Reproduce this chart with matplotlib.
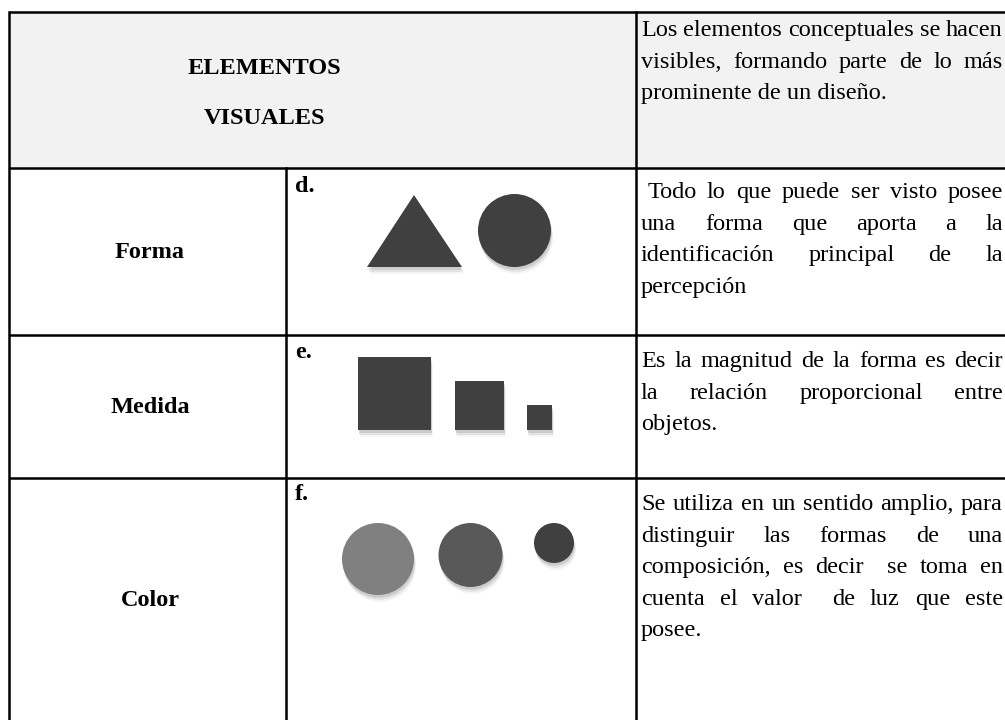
import matplotlib.pyplot as plt
import matplotlib.patches as mpatches
import matplotlib.patheffects as pe

# table content
header_title = ['ELEMENTOS', 'VISUALES']
header_text = ['Los elementos conceptuales se hacen',
               'visibles, formando parte de lo más',
               'prominente de un diseño.']
row_labels = ['Forma', 'Medida', 'Color']
item_letters = ['d.', 'e.', 'f.']
descriptions = [
    [' Todo lo que puede ser visto posee',
     'una forma que aporta a la',
     'identificación principal de la',
     'percepción'],
    ['Es la magnitud de la forma es decir',
     'la relación proporcional entre',
     'objetos.'],
    ['Se utiliza en un sentido amplio, para',
     'distinguir las formas de una',
     'composición, es decir  se toma en',
     'cuenta el valor  de luz que este',
     'posee.'],
]
square_sizes = [73, 49, 25]
circle_radii = [36, 32, 20]
circle_grays = ['#808080', '#595959', '#404040']

W, H = 1005, 720
FONT = 'Liberation Serif'
FS = 17.5
DARK = '#404040'

fig = plt.figure(figsize=(W / 100, H / 100), dpi=100)
ax = fig.add_axes([0, 0, 1, 1])
ax.set_xlim(0, W)
ax.set_ylim(H, 0)
ax.axis('off')
renderer = fig.canvas.get_renderer()

# grid geometry (pixels)
x_left, x_c1, x_c2 = 9, 286, 636
row_tops = [12, 168, 335, 478]
row_bottoms = [168, 335, 478, 722]

ax.add_patch(mpatches.Rectangle((x_left, 12), W - x_left, 156,
                                facecolor='#f2f2f2', edgecolor='none', zorder=0))
lw = 1.8
for y in row_tops:
    ax.plot([x_left, W], [y, y], color='black', lw=lw, solid_capstyle='butt', zorder=3)
ax.plot([x_left, x_left], [12, H], color='black', lw=lw, zorder=3)
ax.plot([x_c2, x_c2], [12, H], color='black', lw=lw, zorder=3)
ax.plot([x_c1, x_c1], [168, H], color='black', lw=lw, zorder=3)


def text_width(s, weight='normal'):
    t = ax.text(0, 0, s, fontsize=FS, family=FONT, fontweight=weight)
    w = t.get_window_extent(renderer).width
    t.remove()
    return w


space_w = text_width('a a') - text_width('aa')


def justified(lines, y0, x0=641, x1=1003, step=31.6):
    for i, line in enumerate(lines):
        y = y0 + i * step
        indent = (len(line) - len(line.lstrip(' '))) * space_w
        body = line.lstrip(' ')
        if i == len(lines) - 1:
            ax.text(x0 + indent, y, body, fontsize=FS, family=FONT, va='baseline')
            continue
        words = body.split(' ')
        widths = [text_width(w) if w else 0 for w in words]
        gap = (x1 - x0 - indent - sum(widths)) / (len(words) - 1)
        x = x0 + indent
        for w, ww in zip(words, widths):
            if w:
                ax.text(x, y, w, fontsize=FS, family=FONT, va='baseline')
            x += ww + gap


# header
ax.text(264, 68, header_title[0], fontsize=FS, family=FONT, fontweight='bold',
        ha='center', va='center')
ax.text(264, 118, header_title[1], fontsize=FS, family=FONT, fontweight='bold',
        ha='center', va='center')
justified(header_text, 36)

# body rows
first_baselines = [198, 367, 510]
letter_baselines = [192, 358, 500]
for i, label in enumerate(row_labels):
    top, bot = row_tops[i + 1], row_bottoms[i + 1]
    ax.text(150, (top + bot) / 2 + 1, label, fontsize=FS, family=FONT,
            fontweight='bold', ha='center', va='center')
    ax.text(295, letter_baselines[i], item_letters[i], fontsize=FS, family=FONT,
            fontweight='bold', va='baseline')
    justified(descriptions[i], first_baselines[i])

shadow = [pe.SimplePatchShadow(offset=(0.5, -2), shadow_rgbFace='#000000', alpha=0.10),
          pe.SimplePatchShadow(offset=(1, -3.5), shadow_rgbFace='#000000', alpha=0.07),
          pe.SimplePatchShadow(offset=(1.5, -5), shadow_rgbFace='#000000', alpha=0.04),
          pe.Normal()]

# forma: triangle and circle
tri = mpatches.Polygon([(367, 267), (414, 195), (462, 267)], closed=True,
                       facecolor=DARK, edgecolor='none', zorder=2)
tri.set_path_effects(shadow)
ax.add_patch(tri)
c = mpatches.Circle((514.5, 230.5), 36.5, facecolor=DARK, edgecolor='none', zorder=2)
c.set_path_effects(shadow)
ax.add_patch(c)

# medida: squares aligned at bottom
sq_x = [358, 455, 527]
for x, s in zip(sq_x, square_sizes):
    r = mpatches.Rectangle((x, 430 - s), s, s, facecolor=DARK, edgecolor='none', zorder=2)
    r.set_path_effects(shadow)
    ax.add_patch(r)

# color: circles aligned at top
cx = [378, 470.5, 554]
for x, rad, g in zip(cx, circle_radii, circle_grays):
    cc = mpatches.Circle((x, 523 + rad), rad, facecolor=g, edgecolor='none', zorder=2)
    cc.set_path_effects(shadow)
    ax.add_patch(cc)

fig.savefig('out.png', dpi=100)
